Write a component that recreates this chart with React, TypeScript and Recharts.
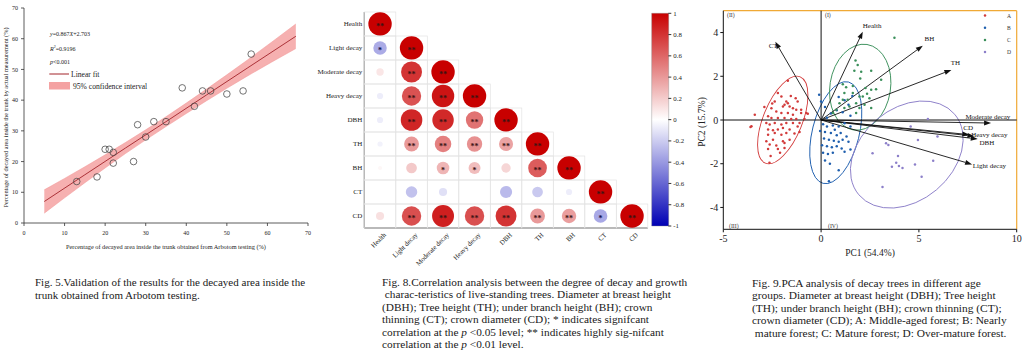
import React from 'react';
import {
  ComposedChart, ScatterChart, BarChart, Bar, Scatter, Line, Area,
  XAxis, YAxis, ReferenceLine, ReferenceArea, Label,
} from 'recharts';

const FONT = '"Liberation Serif", "Times New Roman", Times, serif';

// ================= Fig. 5 data =================
const arbotomPct = [13, 18, 20, 21, 22, 22, 27, 28, 30, 32, 35, 39, 42, 44, 46, 50, 54, 56];
const measuredPct = [13.5, 15, 24, 24, 23, 19.5, 20, 32, 28, 33, 33, 44, 38, 43, 43, 42, 43, 55];
const fitX = [5, 15, 25, 35, 45, 55, 67];
const fitY = [7.0, 15.7, 24.4, 33.0, 41.7, 50.4, 60.8];
const ciLow = [3.2, 13.1, 22.6, 31.4, 39.8, 47.8, 56.8];
const ciHigh = [10.8, 18.3, 26.2, 34.6, 43.6, 53.0, 64.8];
const fig5Ticks = [0, 10, 20, 30, 40, 50, 60, 70];

// ================= Fig. 8 data =================
const corrVars = ['Health', 'Light decay', 'Moderate decay', 'Heavy decay', 'DBH', 'TH', 'BH', 'CT', 'CD'];
const corrValues: number[][] = [
  [1],
  [-0.33, 1],
  [0.1, 0.8, 1],
  [-0.07, 0.68, 0.92, 1],
  [-0.07, 0.85, 0.84, 0.55, 1],
  [-0.05, 0.4, 0.5, 0.43, 0.36, 1],
  [0.03, 0.21, 0.29, 0.26, 0.16, 0.64, 1],
  [0, -0.24, -0.12, 0, -0.27, -0.21, -0.07, 1],
  [0.12, 0.69, 0.88, 0.69, 0.8, 0.4, 0.38, -0.34, 1],
];
const corrStars: string[][] = [
  ['**'],
  ['*', '**'],
  ['', '**', '**'],
  ['', '**', '**', '**'],
  ['', '**', '**', '**', '**'],
  ['', '**', '**', '**', '**', '**'],
  ['', '', '*', '*', '', '**', '**'],
  ['', '', '', '', '', '', '', '**'],
  ['', '**', '**', '**', '**', '**', '**', '*', '**'],
];
const colorbarTicks = [1, 0.8, 0.6, 0.4, 0.2, 0, -0.2, -0.4, -0.6, -0.8, -1];

// ================= Fig. 9 data =================
const pcaA: [number, number][] = [
  [-1.70, 1.79], [-2.21, 1.23], [-2.03, 1.07], [-1.78, 0.85], [-1.87, 0.70], [-1.70, 0.77], [-1.95, 0.62], [-1.61, 0.62], [-1.44, 0.54], [-1.27, 0.47],
  [-2.37, 0.85], [-2.54, 0.54], [-2.29, 0.39], [-2.03, 0.32], [-1.70, 0.32], [-1.44, 0.24], [-1.02, 0.32], [-0.76, 0.32], [-2.71, 0.17], [-2.54, 0.09],
  [-2.21, 0.09], [-1.87, 0.09], [-1.53, 0.05], [-1.27, 0.05], [-3.39, 0.24], [-3.56, -0.29], [-2.80, -0.14], [-2.63, -0.21], [-2.37, -0.14], [-2.03, -0.21],
  [-1.78, -0.14], [-1.44, -0.14], [-2.71, -0.44], [-2.46, -0.47], [-2.21, -0.44], [-1.95, -0.37], [-1.61, -0.44], [-2.71, -0.67], [-2.37, -0.59], [-2.03, -0.67],
  [-1.78, -0.59], [-1.36, -0.62], [-1.61, -0.90], [-1.95, -0.97], [-2.46, -0.90], [-2.80, -0.97], [-2.63, -1.12], [-2.29, -1.17], [-1.87, -1.05], [-2.71, -1.33],
  [-2.58, -1.65], [-2.21, -1.33], [-1.87, -1.28], [-1.10, -0.14], [-0.85, 0.05], [-1.02, 0.47], [-2.64, -1.96], [-0.68, 0.29], [-3.61, -0.32], [-1.55, 1.10],
  [-1.30, 1.00], [-1.20, 0.85], [-2.10, -1.50], [-1.20, -0.30], [-1.10, -0.55], [-2.90, 0.60], [-2.50, 0.75],
];
const pcaB: [number, number][] = [
  [-0.1, 1.15], [0.0, 0.85], [0.2, 0.6], [0.5, 0.3], [0.8, 0.45], [1.1, 0.35], [1.4, 0.7], [1.6, 1.1], [1.2, 0.9], [0.9, 1.05],
  [1.5, 0.2], [0.3, 0.1], [0.1, -0.2], [0.3, -0.3], [0.6, -0.25], [0.9, -0.3], [1.2, -0.15], [1.5, -0.3], [0.2, -0.55], [0.5, -0.6],
  [0.7, -0.45], [0.8, -0.7], [1.0, -0.6], [1.3, -0.75], [0.15, -0.85], [0.4, -0.9], [0.65, -0.95], [0.9, -1.0], [1.1, -0.9], [1.4, -1.0],
  [0.05, -1.15], [0.3, -1.2], [0.55, -1.25], [0.8, -1.2], [1.05, -1.3], [0.1, -1.5], [0.35, -1.55], [0.6, -1.5], [1.2, -1.45], [1.5, -1.35],
  [0.45, -2.0], [0.9, -2.3], [0.4, -2.8], [0.2, -1.85], [-0.05, -0.5],
];
const pcaC: [number, number][] = [
  [3.75, 3.76], [1.76, 2.72], [1.87, 2.52], [2.05, 2.21], [2.56, 2.25], [3.07, 1.84], [1.70, 2.25], [1.11, 1.64], [1.28, 1.50], [1.62, 1.56],
  [2.27, 1.46], [2.56, 1.38], [2.81, 1.41], [1.96, 1.08], [2.13, 1.08], [1.62, 1.23], [1.19, 1.23], [1.36, 0.93], [2.47, 1.00], [1.79, 0.77],
  [2.22, 0.70], [2.56, 0.55], [1.96, 0.55], [1.19, 0.55], [0.77, 0.47], [0.94, 0.77], [1.45, 0.62], [1.79, 0.32], [1.11, 0.93], [0.60, 0.32],
  [2.0, 1.9], [2.35, 1.2],
];
const pcaD: [number, number][] = [
  [5.46, 0.05], [4.58, -0.30], [5.95, -0.75], [4.95, -0.92], [3.32, -1.06], [3.44, -1.14], [2.63, -1.52], [3.93, -1.65], [3.84, -1.96], [3.98, -2.10],
  [4.16, -2.20], [3.62, -2.14], [4.80, -2.03], [5.73, -1.86], [5.14, -2.60], [3.14, -3.07],
];
const groupNames = ['A', 'B', 'C', 'D'];
const loadingNames = ['Health', 'BH', 'TH', 'Moderate decay', 'CD', 'Heavy decay', 'DBH', 'Light decay', 'CT'];
const loadingPC1 = [2.13, 5.2, 6.66, 8.69, 7.58, 7.84, 8.01, 7.72, -2.34];
const loadingPC2 = [4.04, 3.4, 2.29, -0.14, -0.67, -0.74, -0.87, -2.03, 3.58];
// confidence ellipses: centre, semi-axes (PC1 units, PC2 units), tilt in degrees
const ellipseCx = [-1.96, 0.75, 2.0, 4.38];
const ellipseCy = [0.0, -0.58, 1.5, -1.58];
const ellipseRx = [1.0, 1.2, 1.55, 3.2];
const ellipseRy = [2.13, 2.39, 1.98, 2.11];
const ellipseTilt = [22, 14, 9, -40];
const pc1Ticks = [-5, 0, 5, 10];
const pc2Ticks = [-4, -2, 0, 2, 4];

// ================= styles =================
const groupColors = ['#d23a3a', '#1f5fae', '#3a8f5a', '#8c7fc9'];
const arrowLabelStyle: Record<string, { dx: number; dy: number }> = {
  'Health': { dx: 0, dy: -3.5 },
  'BH': { dx: 1.7, dy: -4.5 },
  'TH': { dx: -0.7, dy: -4.5 },
  'Moderate decay': { dx: -25.7, dy: -4.5 },
  'CD': { dx: -6, dy: -4.5 },
  'Heavy decay': { dx: -3.3, dy: 0.8 },
  'DBH': { dx: 1.7, dy: 5.6 },
  'Light decay': { dx: 0.7, dy: 4 },
  'CT': { dx: -6.7, dy: 6.2 },
};

function corrColor(v: number): string {
  if (v >= 0) {
    const t = Math.min(1, v);
    const r = Math.round(255 - 55 * t);
    const g = Math.round(255 * (1 - t));
    return `rgb(${r},${g},${g})`;
  }
  const t = Math.min(1, -v);
  const rg = Math.round(255 * (1 - t));
  const b = Math.round(255 - 75 * t);
  return `rgb(${rg},${rg},${b})`;
}

// ================= Fig. 5 =================
const fig5Points = arbotomPct.map((x, i) => ({ x, y: measuredPct[i] }));
const fig5Band = fitX.map((x, i) => ({ x, fit: fitY[i], ci: [ciLow[i], ciHigh[i]] }));

function Fig5() {
  const ax = '#333';
  const tick = { fontSize: 6, fill: '#222', fontFamily: FONT };
  return (
    <ComposedChart width={320} height={258} data={fig5Band} margin={{ top: 8, right: 12, bottom: 0, left: 0 }}>
      <XAxis dataKey="x" type="number" domain={[0, 70]} ticks={fig5Ticks} interval={0} height={35}
        tick={tick} tickSize={3} tickMargin={4.5} stroke={ax} strokeWidth={0.8}>
        <Label content={(p: any) => {
          const vb = p.viewBox || { x: 24, y: 223, width: 284 };
          return (
            <text x={vb.x + vb.width / 2} y={vb.y + 26} textAnchor="middle" fontSize={6.3} fill="#222" fontFamily={FONT}>
              Percentage of decayed area inside the trunk obtained from Arbotom testing (%)
            </text>
          );
        }} />
      </XAxis>
      <YAxis type="number" domain={[0, 70]} ticks={fig5Ticks} interval={0} width={24}
        tick={tick} tickSize={3} tickMargin={3} stroke={ax} strokeWidth={0.8}>
        <Label content={(p: any) => {
          const vb = p.viewBox || { x: 0, y: 8, height: 215 };
          const cx = vb.x + 5;
          const cy = vb.y + vb.height / 2 + 2;
          return (
            <text x={cx} y={cy} transform={`rotate(-90 ${cx} ${cy})`} textAnchor="middle" dominantBaseline="central"
              fontSize={6.3} fill="#222" fontFamily={FONT}>
              Percentage of decayed area inside the trunk by actual measurement (%)
            </text>
          );
        }} />
      </YAxis>
      <XAxis xAxisId="top" orientation="top" type="number" domain={[0, 70]} ticks={fig5Ticks} tick={false} tickLine={false} height={0} stroke={ax} strokeWidth={0.8} />
      <YAxis yAxisId="right" orientation="right" type="number" domain={[0, 70]} ticks={fig5Ticks} tick={false} tickLine={false} width={0} stroke={ax} strokeWidth={0.8} />
      <Area dataKey="ci" type="monotone" fill="#f4a2a2" fillOpacity={0.85} stroke="#f09494" strokeWidth={0.5} isAnimationActive={false} />
      <Line dataKey="fit" type="linear" stroke="#a3242a" strokeWidth={0.9} dot={false} isAnimationActive={false} />
      <Scatter data={fig5Points} dataKey="y" isAnimationActive={false}
        shape={(p: any) => <circle cx={p.cx} cy={p.cy} r={3.3} fill="none" stroke="#444" strokeWidth={0.75} />} />
    </ComposedChart>
  );
}

// ================= Fig. 8 =================
const corrCells = corrValues.flatMap((row, i) => row.map((v, j) => ({ col: j + 1, row: i + 1, v, sig: corrStars[i][j] })));
const corrIdx = corrVars.map((_, i) => i + 1);
const CORR_W = 283.5;
const CORR_H = 216;

function CorrCell(p: any) {
  const { cx, cy, payload } = p;
  const cw = CORR_W / corrVars.length;
  const ch = CORR_H / corrVars.length;
  const v = payload.v;
  const r = 11.7 * Math.sqrt(Math.abs(v));
  return (
    <g>
      <rect x={cx - cw / 2} y={cy - ch / 2} width={cw} height={ch} fill="none" stroke="#e3e3e3" strokeWidth={0.7} />
      {r > 0.3 && <circle cx={cx} cy={cy} r={r} fill={corrColor(v)} />}
      {payload.sig ? (
        <text x={cx} y={cy + 4.6} textAnchor="middle" fontSize={8} fontWeight="bold" fill={v < 0 ? '#10104a' : '#3a1414'} fontFamily={FONT}>{payload.sig}</text>
      ) : null}
    </g>
  );
}

function RotTick(p: any) {
  const { x, y, payload } = p;
  const ax = x + 5;
  const ay = y + 4;
  return (
    <text x={ax} y={ay} transform={`rotate(-45 ${ax} ${ay})`} textAnchor="end" dy="0.3em" fontSize={6.8} fill="#222" fontFamily={FONT}>
      {corrVars[payload.value - 1]}
    </text>
  );
}

function RowTick(p: any) {
  const { x, y, payload } = p;
  return (
    <text x={x - 2} y={y} textAnchor="end" dy="0.33em" fontSize={7} fill="#222" fontFamily={FONT}>
      {corrVars[payload.value - 1]}
    </text>
  );
}

function Fig8() {
  return (
    <ScatterChart width={390} height={275} margin={{ top: 12, right: 42.2, bottom: 0, left: 0.3 }}>
      <XAxis type="number" dataKey="col" domain={[0.5, 9.5]} ticks={corrIdx} interval={0} height={47}
        tick={<RotTick />} tickSize={0} tickLine={false} stroke="#333" strokeWidth={0.9} />
      <YAxis type="number" dataKey="row" domain={[0.5, 9.5]} reversed ticks={corrIdx} interval={0} width={64}
        tick={<RowTick />} tickSize={0} tickLine={false} tickMargin={0} stroke="#333" strokeWidth={0.9} />
      <Scatter data={corrCells} isAnimationActive={false} shape={(p: any) => <CorrCell {...p} />} />
    </ScatterChart>
  );
}

function Colorbar() {
  const stops = colorbarTicks.map((v) => ({ off: (1 - v) / 2, c: corrColor(v) }));
  return (
    <BarChart width={60} height={240} data={[{ name: 'r', range: [-1, 1] }]} barCategoryGap={0}
      margin={{ top: 13.3, right: 0, bottom: 14, left: 11.7 }}>
      <defs>
        <linearGradient id="cbGrad" x1="0" y1="0" x2="0" y2="1">
          {stops.map((s, i) => <stop key={i} offset={s.off} stopColor={s.c} />)}
        </linearGradient>
      </defs>
      <XAxis dataKey="name" hide height={0} />
      <YAxis orientation="right" type="number" domain={[-1, 1]} ticks={colorbarTicks} interval={0} width={31.7}
        axisLine={false} tickSize={3} tickMargin={2} stroke="#333"
        tick={{ fontSize: 6.8, fill: '#222', fontFamily: FONT }}
        tickFormatter={(v: number) => String(Math.round(v * 10) / 10)} />
      <Bar dataKey="range" fill="url(#cbGrad)" stroke="#888" strokeWidth={0.4} isAnimationActive={false} />
    </BarChart>
  );
}

// ================= Fig. 9 =================
const pcaGroups = [pcaA, pcaB, pcaC, pcaD].map((g) => g.map(([x, y]) => ({ x, y })));

const makeEllipse = (tilt: number, color: string) => (p: any) => {
  const w = Math.abs(p.width);
  const h = Math.abs(p.height);
  const x0 = Math.min(p.x, p.x + p.width);
  const y0 = Math.min(p.y, p.y + p.height);
  const cx = x0 + w / 2;
  const cy = y0 + h / 2;
  return <ellipse cx={cx} cy={cy} rx={w / 2} ry={h / 2} transform={`rotate(${tilt} ${cx} ${cy})`} fill="none" stroke={color} strokeWidth={0.9} />;
};

const makeArrow = (name: string) => (p: any) => {
  const { x1, y1, x2, y2 } = p;
  const ang = Math.atan2(y2 - y1, x2 - x1);
  const c = Math.cos(ang);
  const s = Math.sin(ang);
  const L = 7;
  const W = 2.5;
  const bx = x2 - L * c;
  const by = y2 - L * s;
  const pts = `${x2},${y2} ${bx - W * s},${by + W * c} ${bx + W * s},${by - W * c}`;
  const st = arrowLabelStyle[name] || { dx: 0, dy: 0 };
  return (
    <g>
      <line x1={x1} y1={y1} x2={bx} y2={by} stroke="#111" strokeWidth={0.9} />
      <polygon points={pts} fill="#111" />
      <text x={x2 + st.dx} y={y2 + st.dy} fontSize={7} fill="#111" fontFamily={FONT}>{name}</text>
    </g>
  );
};

function Fig9() {
  const tick = { fontSize: 10, fill: '#222', fontFamily: FONT };
  return (
    <ScatterChart width={334} height={262} margin={{ top: 10.7, right: 7.3, bottom: 0, left: 0 }}>
      <XAxis type="number" dataKey="x" domain={[-5, 10]} ticks={pc1Ticks} interval={0} height={32.7}
        tick={tick} tickSize={3} tickMargin={3} stroke="#111" strokeWidth={1}>
        <Label content={(p: any) => {
          const vb = p.viewBox || { x: 33, y: 229, width: 294 };
          return (
            <text x={vb.x + vb.width / 2} y={vb.y + 27} textAnchor="middle" fontSize={9.5} fill="#222" fontFamily={FONT}>PC1 (54.4%)</text>
          );
        }} />
      </XAxis>
      <YAxis type="number" dataKey="y" domain={[-5, 5]} ticks={pc2Ticks} interval={0} width={33.3}
        tick={tick} tickSize={3} tickMargin={2} stroke="#111" strokeWidth={1}>
        <Label content={(p: any) => {
          const vb = p.viewBox || { x: 0, y: 10.7, height: 218.6 };
          const cx = vb.x + 11.5;
          const cy = vb.y + vb.height / 2 + 2;
          return (
            <text x={cx} y={cy} transform={`rotate(-90 ${cx} ${cy})`} textAnchor="middle" dominantBaseline="central"
              fontSize={9.5} fill="#222" fontFamily={FONT}>PC2 (15.7%)</text>
          );
        }} />
      </YAxis>
      <ReferenceLine y={5} stroke="#f0a935" strokeWidth={1.2} />
      <ReferenceLine x={10} stroke="#f0a935" strokeWidth={1.2} />
      {ellipseCx.map((cx, i) => (
        <ReferenceArea key={`e${i}`} x1={cx - ellipseRx[i]} x2={cx + ellipseRx[i]}
          y1={ellipseCy[i] - ellipseRy[i]} y2={ellipseCy[i] + ellipseRy[i]}
          shape={makeEllipse(ellipseTilt[i], groupColors[i])} />
      ))}
      {pcaGroups.map((g, i) => (
        <Scatter key={groupNames[i]} name={groupNames[i]} data={g} isAnimationActive={false}
          shape={(p: any) => <circle cx={p.cx} cy={p.cy} r={1.25} fill={groupColors[i]} />} />
      ))}
      <ReferenceLine x={0} stroke="#111" strokeWidth={1} />
      <ReferenceLine y={0} stroke="#111" strokeWidth={1} />
      {loadingNames.map((n, i) => (
        <ReferenceLine key={n} segment={[{ x: 0, y: 0 }, { x: loadingPC1[i], y: loadingPC2[i] }]}
          shape={makeArrow(n)} />
      ))}
    </ScatterChart>
  );
}

function Fig1Legend() {
  return (
    <svg width={160} height={100} style={{ position: 'absolute', left: 0, top: 0, overflow: 'visible' }}>
      <text x={50} y={36} fontSize={6} fill="#222" fontFamily={FONT}>
        <tspan fontStyle="italic">y</tspan>=0.867<tspan fontStyle="italic">X</tspan>+2.703
      </text>
      <text x={50} y={50.5} fontSize={6} fill="#222" fontFamily={FONT}>
        <tspan fontStyle="italic">R</tspan><tspan fontSize={4} dy={-2.2}>2</tspan><tspan dy={2.2}>=0.9196</tspan>
      </text>
      <text x={50} y={64} fontSize={6} fill="#222" fontFamily={FONT}>
        <tspan fontStyle="italic">p</tspan>&lt;0.001
      </text>
      <line x1={49.3} y1={74} x2={69} y2={74} stroke="#a3242a" strokeWidth={1} />
      <text x={71} y={76.6} fontSize={7.6} fill="#222" fontFamily={FONT}>Linear fit</text>
      <rect x={49} y={82} width={21} height={7.5} fill="#f4a2a2" />
      <text x={73} y={88.6} fontSize={7.6} fill="#222" fontFamily={FONT}>95% confidence interval</text>
    </svg>
  );
}

function Fig9Overlay() {
  const ys = [16, 28.3, 40.4, 52.5];
  return (
    <svg width={334} height={262} style={{ position: 'absolute', left: 690, top: 0, overflow: 'visible' }}>
      <text x={37} y={17} fontSize={5.8} fill="#333" fontFamily={FONT}>(II)</text>
      <text x={135} y={17} fontSize={5.8} fill="#333" fontFamily={FONT}>(I)</text>
      <text x={39} y={228} fontSize={5.8} fill="#333" fontFamily={FONT}>(III)</text>
      <text x={138} y={228} fontSize={5.8} fill="#333" fontFamily={FONT}>(IV)</text>
      {groupNames.map((g, i) => (
        <g key={g}>
          <circle cx={295} cy={ys[i] - 0.5} r={1.25} fill={groupColors[i]} />
          <text x={317} y={ys[i] + 1.5} fontSize={5.6} fill="#333" fontFamily={FONT}>{g}</text>
        </g>
      ))}
    </svg>
  );
}

const capStyle: React.CSSProperties = {
  position: 'absolute', fontFamily: FONT, color: '#1a1a1a', whiteSpace: 'pre', margin: 0,
};

export default function App() {
  return (
    <div style={{ position: 'absolute', left: 0, top: 0, width: 1024, height: 352, background: '#fff', overflow: 'hidden', fontFamily: FONT }}>
      <div style={{ position: 'absolute', left: 0, top: 0 }}><Fig5 /></div>
      <Fig1Legend />
      <div style={{ position: 'absolute', left: 300, top: 0 }}><Fig8 /></div>
      <div style={{ position: 'absolute', left: 640, top: 0 }}><Colorbar /></div>
      <div style={{ position: 'absolute', left: 690, top: 0 }}><Fig9 /></div>
      <Fig9Overlay />
      <div style={{ ...capStyle, left: 35, top: 275.5, fontSize: 11, lineHeight: '13px' }}>
        {'Fig. 5.Validation of the results for the decayed area inside the\ntrunk obtained from Arbotom testing.'}
      </div>
      <div style={{ ...capStyle, left: 382, top: 275.5, fontSize: 11.3, lineHeight: '12.6px' }}>
        {'Fig. 8.Correlation analysis between the degree of decay and growth\n charac-teristics of live-standing trees. Diameter at breast height\n(DBH); Tree height (TH); under branch height (BH); crown\nthinning (CT); crown diameter (CD); * indicates signifcant\ncorrelation at the '}<i>p</i>{' <0.05 level; ** indicates highly sig-nifcant\ncorrelation at the '}<i>p</i>{' <0.01 level.'}
      </div>
      <div style={{ ...capStyle, left: 752, top: 276.5, fontSize: 11.4, lineHeight: '12.6px' }}>
        {'Fig. 9.PCA analysis of decay trees in different age\ngroups. Diameter at breast height (DBH); Tree height\n(TH); under branch height (BH); crown thinning (CT);\ncrown diameter (CD); A: Middle-aged forest; B: Nearly\n mature forest; C: Mature forest; D: Over-mature forest.'}
      </div>
    </div>
  );
}
